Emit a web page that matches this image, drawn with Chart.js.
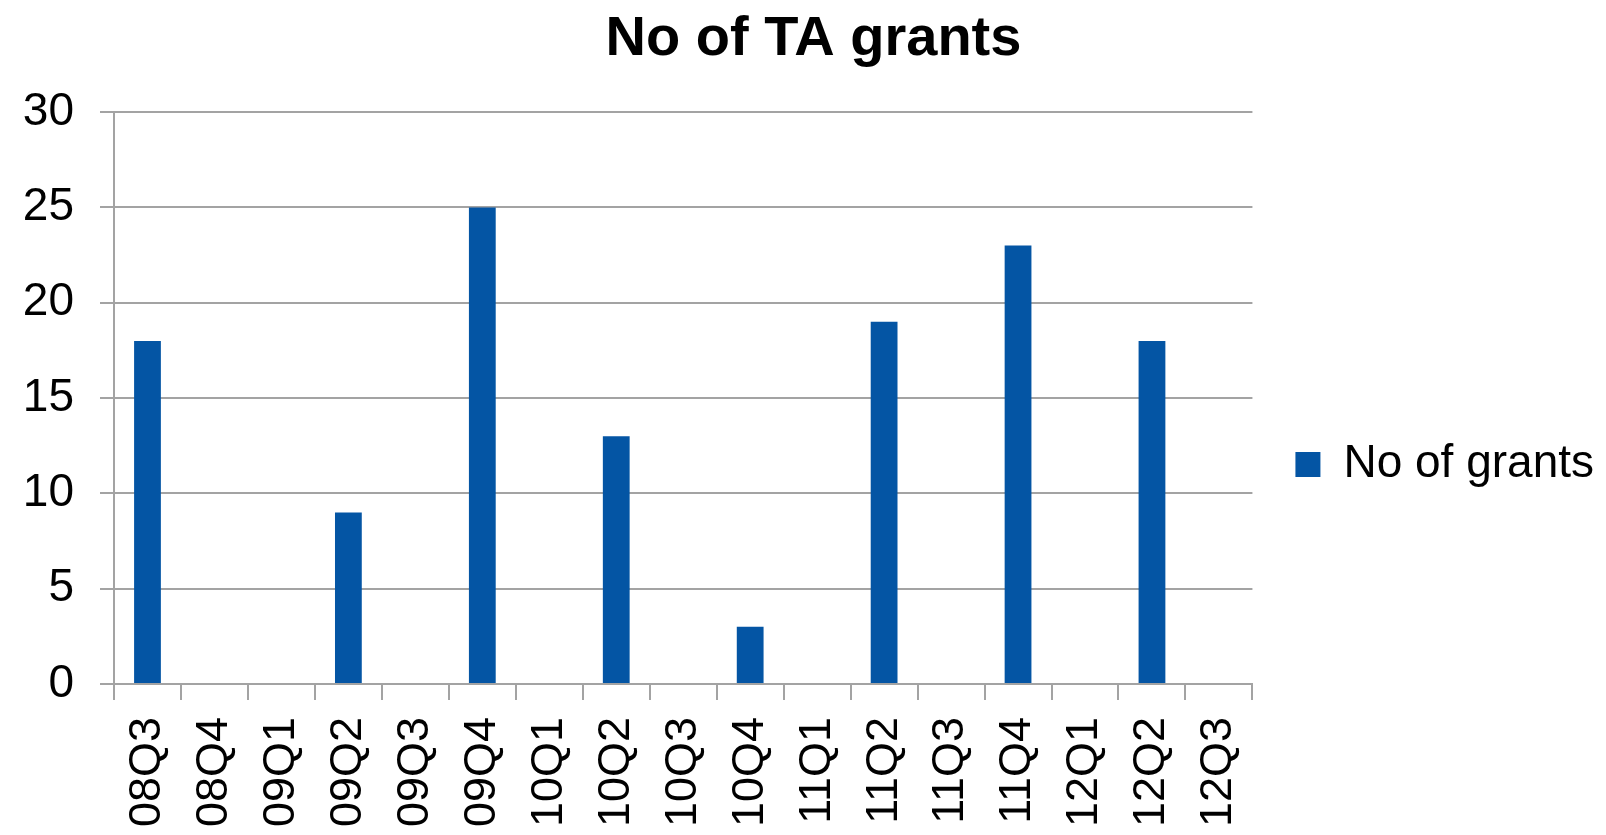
<!DOCTYPE html>
<html>
<head>
<meta charset="utf-8">
<title>No of TA grants</title>
<script src="https://cdn.jsdelivr.net/npm/chart.js@4/dist/chart.umd.min.js"></script>
<style>
  html, body { margin: 0; padding: 0; background: #fff; }
  #wrap { width: 1606px; height: 835px; position: relative; }
</style>
</head>
<body>
<div id="wrap"><canvas id="grantsChart"></canvas></div>
<script>
// quarters (yyQn)
const quarters = ["08Q3", "08Q4", "09Q1", "09Q2", "09Q3", "09Q4", "10Q1", "10Q2", "10Q3",
                  "10Q4", "11Q1", "11Q2", "11Q3", "11Q4", "12Q1", "12Q2", "12Q3"];
// number of grants per quarter
const grants = [18, 0, 0, 9, 0, 25, 0, 13, 0, 3, 0, 19, 0, 23, 0, 18, 0];
const yTicks = [0, 5, 10, 15, 20, 25, 30];

const barColor = '#0455a4';
const gridColor = '#a3a3a3';

Chart.defaults.font.family = "'Liberation Sans', Arial, sans-serif";
Chart.defaults.color = '#000';

const drawGrantsChart = () => {
    var ctx = document.getElementById('grantsChart').getContext('2d');
    var myChart = new Chart(ctx, {
        type: 'bar',
        data: {
            labels: quarters,
            datasets: [{
                label: 'No of grants',
                data: grants,
                backgroundColor: barColor,
                borderWidth: 0,
                barPercentage: 0.4,
                categoryPercentage: 1.0
            }]
        },
        options: {
            responsive: true,
            maintainAspectRatio: false,
            animation: false,
            layout: { padding: { left: 23, right: 2, top: 0, bottom: 8 } },
            plugins: {
                title: {
                    display: true,
                    text: 'No of TA grants',
                    color: '#000',
                    font: { size: 56, weight: 'bold' },
                    padding: { top: 6, bottom: 39 }
                },
                legend: {
                    position: 'right',
                    // empty legend title just pushes the item down a bit
                    title: {
                        display: true,
                        text: '',
                        font: { size: 10 },
                        padding: { top: 90, bottom: 0 }
                    },
                    labels: {
                        boxWidth: 25,
                        boxHeight: 25,
                        padding: 43,
                        color: '#000',
                        font: { size: 46 }
                    }
                },
                tooltip: { enabled: false }
            },
            scales: {
                x: {
                    offset: true,
                    grid: {
                        offset: true,
                        drawOnChartArea: false,
                        drawTicks: true,
                        tickLength: 16,
                        color: gridColor,
                        lineWidth: 2
                    },
                    border: { display: true, color: gridColor, width: 2 },
                    ticks: {
                        autoSkip: false,
                        minRotation: 90,
                        maxRotation: 90,
                        padding: 17,
                        font: { size: 45 }
                    },
                    // chart.js counts tick padding twice, keep the axis snug
                    afterFit: (axis) => { axis.height = 143; }
                },
                y: {
                    min: 0,
                    max: 30,
                    afterBuildTicks: (axis) => { axis.ticks = yTicks.map(v => ({ value: v })); },
                    grid: {
                        drawTicks: true,
                        tickLength: 14,
                        color: gridColor,
                        lineWidth: 2
                    },
                    border: { display: true, color: gridColor, width: 2 },
                    ticks: {
                        padding: 26,
                        font: { size: 46 }
                    },
                    afterFit: (axis) => { axis.width = 91; }
                }
            }
        }
    });
}

drawGrantsChart();
</script>
</body>
</html>
